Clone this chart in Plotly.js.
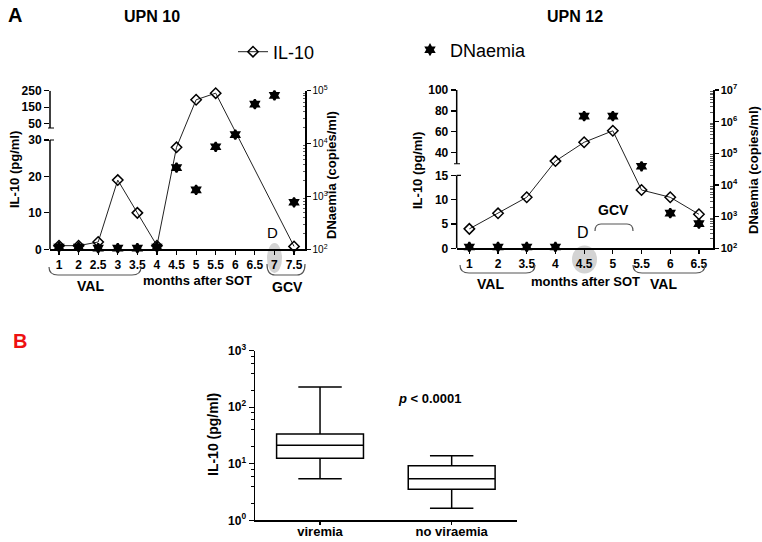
<!DOCTYPE html>
<html><head><meta charset="utf-8">
<script src="https://cdn.plot.ly/plotly-3.0.1.min.js"></script>
<style>html,body{margin:0;padding:0;background:#fff}#chart{width:762px;height:542px}</style>
</head><body><div id="chart"></div>
<script>
// ---------- DATA ----------
const catsA   = ['1','2','2.5','3','3.5','4','4.5','5','5.5','6','6.5','7','7.5'];
const il10A_x = ['1','2','2.5','3','3.5','4','4.5','5','5.5','7.5'];
const il10A   = [1, 1, 2, 19, 10, 1, 28, 195, 235, 0.8];
const dnaA    = [110, 110, 105, 105, 105, 110, 3500, 1330, 8700, 14800, 55600, 81500, 775];

const catsB   = ['1','2','3.5','4','4.5','5','5.5','6','6.5'];
const il10B   = [4, 7.2, 10.5, 32, 50, 61, 12, 10.5, 7];
const dnaB    = [110, 110, 110, 110, 1.5e6, 1.5e6, 39000, 1290, 600];

const leftTicksA = [0, 10, 20, 30, 50, 150, 250];
const leftTicksB = [0, 5, 10, 15, 40, 60, 80, 100];

const boxGroups  = ['viremia', 'no viraemia'];
const boxLow     = [5.45, 1.63];
const boxQ1      = [12.5, 3.53];
const boxMedian  = [21.2, 5.45];
const boxQ3      = [33.7, 9.25];
const boxHigh    = [229, 13.9];

// ---------- helpers ----------
const W = 762, H = 542;
const px = x => x / W, py = y => 1 - y / H;
const FONT = 'Liberation Sans, Arial, sans-serif';

// broken-axis scale configs
const brkA = {lowMax: 30, upRef: 50, upBase: 34.48, upScale: 0.0453};
const brkB = {lowMax: 20, upRef: 40, upBase: 19.67, upScale: 0.2152};
const brk = (v, s) => v <= s.lowMax ? v : s.upBase + (v - s.upRef) * s.upScale;

function sup(n) { return '10<sup>' + n + '</sup>'; }
function decades(a, b) { const v = []; for (let i = a; i <= b; i++) v.push(Math.pow(10, i)); return v; }
function minors(a, b, digits) { const v = []; for (let i = a; i < b; i++) digits.forEach(d => v.push(d * Math.pow(10, i))); return v; }

const il10Style = {mode: 'lines+markers', line: {color: '#222', width: 1},
  marker: {symbol: 'diamond-open', size: 8, color: 'black', line: {width: 1.5, color: 'black'}}, cliponaxis: false};
const dnaStyle = {mode: 'markers', marker: {symbol: 'hexagram', size: 7, color: 'black', line: {width: 2, color: 'black'}}, cliponaxis: false};

const traces = [
  Object.assign({type: 'scatter', name: 'IL-10', x: il10A_x, y: il10A.map(v => brk(v, brkA)), xaxis: 'x', yaxis: 'y', legend: 'legend', showlegend: true}, il10Style),
  Object.assign({type: 'scatter', name: 'DNaemia', x: catsA, y: dnaA, xaxis: 'x', yaxis: 'y2', legend: 'legend2', showlegend: true}, dnaStyle),
  Object.assign({type: 'scatter', name: 'IL-10', x: catsB, y: il10B.map(v => brk(v, brkB)), xaxis: 'x2', yaxis: 'y3', showlegend: false}, il10Style),
  Object.assign({type: 'scatter', name: 'DNaemia', x: catsB, y: dnaB, xaxis: 'x2', yaxis: 'y4', showlegend: false}, dnaStyle),
  {type: 'box', x: boxGroups, lowerfence: boxLow, q1: boxQ1, median: boxMedian, q3: boxQ3, upperfence: boxHigh,
   xaxis: 'x3', yaxis: 'y5', showlegend: false, boxpoints: false, width: 0.66, whiskerwidth: 0.5,
   line: {color: 'black', width: 1.5}, fillcolor: 'white'}
];

const tickBold = {family: FONT, size: 12, color: 'black', weight: 'bold'};

const xBase = {type: 'category', showline: true, linecolor: 'black', linewidth: 1.5, ticks: 'outside', ticklen: 4,
  tickcolor: 'black', tickwidth: 1.2, showgrid: false, zeroline: false, tickfont: tickBold, fixedrange: true};

const layout = {
  width: W, height: H, margin: {l: 0, r: 0, t: 0, b: 0},
  paper_bgcolor: 'white', plot_bgcolor: 'rgba(0,0,0,0)', font: {family: FONT, color: 'black'},
  hovermode: false,
  legend: {x: px(233), y: py(52), xanchor: 'left', yanchor: 'middle', orientation: 'h', font: {family: FONT, size: 18}, bgcolor: 'rgba(0,0,0,0)'},
  legend2: {x: px(410), y: py(50), xanchor: 'left', yanchor: 'middle', orientation: 'h', font: {family: FONT, size: 18}, bgcolor: 'rgba(0,0,0,0)'},
  // UPN 10
  xaxis: Object.assign({}, xBase, {domain: [px(50), px(305)], anchor: 'y', categoryorder: 'array', categoryarray: catsA, range: [-0.46, 12.56]}),
  yaxis: {domain: [py(249.3), py(90.7)], range: [0, brk(250, brkA)], showline: false, showgrid: false, zeroline: false,
    tickmode: 'array', tickvals: leftTicksA.map(v => brk(v, brkA)), ticktext: leftTicksA.map(String),
    ticks: 'outside', ticklen: 5, tickcolor: 'black', tickwidth: 1.2, tickfont: tickBold, anchor: 'x', fixedrange: true},
  yaxis2: {type: 'log', domain: [py(249.3), py(90.7)], range: [2, 5], overlaying: 'y', side: 'right', anchor: 'x',
    showline: true, linecolor: 'black', linewidth: 1.5, showgrid: false, zeroline: false,
    tickmode: 'array', tickvals: decades(2, 5), ticktext: [2, 3, 4, 5].map(sup), ticks: 'outside', ticklen: 4,
    tickcolor: 'black', tickwidth: 1.2, tickfont: {family: FONT, size: 10, color: 'black'},
    minor: {tickvals: minors(2, 5, [2, 3, 4, 5, 6, 7, 8, 9]), ticks: 'inside', ticklen: 2, tickcolor: '#333', tickwidth: 0.8, showgrid: false}, fixedrange: true},
  // UPN 12
  xaxis2: Object.assign({}, xBase, {domain: [px(456.7), px(713)], anchor: 'y3', categoryorder: 'array', categoryarray: catsB, range: [-0.44, 8.49]}),
  yaxis3: {domain: [py(248.3), py(90)], range: [0, brk(100, brkB)], showline: false, showgrid: false, zeroline: false,
    tickmode: 'array', tickvals: leftTicksB.map(v => brk(v, brkB)), ticktext: leftTicksB.map(String),
    ticks: 'outside', ticklen: 5, tickcolor: 'black', tickwidth: 1.2, tickfont: tickBold, anchor: 'x2', fixedrange: true},
  yaxis4: {type: 'log', domain: [py(248.3), py(90)], range: [2, 7], overlaying: 'y3', side: 'right', anchor: 'x2',
    showline: true, linecolor: 'black', linewidth: 1.5, showgrid: false, zeroline: false,
    tickmode: 'array', tickvals: decades(2, 7), ticktext: [2, 3, 4, 5, 6, 7].map(sup), ticks: 'outside', ticklen: 4,
    tickcolor: 'black', tickwidth: 1.2, tickfont: {family: FONT, size: 11, color: 'black', weight: 'bold'},
    minor: {tickvals: minors(2, 7, [2, 3, 4, 5, 6, 7, 8, 9]), ticks: 'inside', ticklen: 3, tickcolor: '#333', tickwidth: 0.8, showgrid: false}, fixedrange: true},
  // Box panel
  xaxis3: {domain: [px(255), px(516.7)], anchor: 'y5', type: 'category', range: [-0.494, 1.494], showline: true, linecolor: 'black', linewidth: 1.5,
    ticks: 'outside', ticklen: 3, tickcolor: 'black', tickwidth: 1.2, showgrid: false, zeroline: false, ticklabelstandoff: -4,
    tickfont: {family: FONT, size: 13, color: 'black', weight: 'bold'}, fixedrange: true},
  yaxis5: {type: 'log', domain: [py(520.3), py(350.7)], range: [0, 3], anchor: 'x3', showline: true, linecolor: 'black', linewidth: 1.5,
    showgrid: false, zeroline: false, tickmode: 'array', tickvals: decades(0, 3), ticktext: [0, 1, 2, 3].map(sup),
    ticks: 'outside', ticklen: 5, tickcolor: 'black', tickwidth: 1.2, tickfont: tickBold,
    minor: {tickvals: minors(0, 3, [2, 4, 6, 8]), ticks: 'outside', ticklen: 3, tickcolor: 'black', tickwidth: 1, showgrid: false}, fixedrange: true}
};

// ---------- decorations ----------
function ann(text, x, y, size, opts) {
  return Object.assign({text: text, x: px(x), y: py(y), xref: 'paper', yref: 'paper', showarrow: false,
    xanchor: 'center', yanchor: 'middle', font: {family: FONT, size: size, color: 'black'}}, opts || {});
}
layout.annotations = [
  ann('<b>A</b>', 15, 15, 20),
  ann('<b>UPN 10</b>', 152, 16, 16),
  ann('<b>UPN 12</b>', 575, 16, 16),
  ann('<b>B</b>', 20, 341, 20, {font: {family: FONT, size: 20, color: '#ee1111'}}),
  ann('<b>IL-10 (pg/ml)</b>', 15, 170, 13, {textangle: -90}),
  ann('<b>DNaemia (copies/ml)</b>', 332, 175, 13, {textangle: -90}),
  ann('<b>IL-10 (pg/ml)</b>', 418, 170, 13, {textangle: -90}),
  ann('<b>DNaemia (copies/ml)</b>', 754, 170, 13, {textangle: -90}),
  ann('<b>IL-10 (pg/ml)</b>', 213, 435, 14, {textangle: -90}),
  ann('D', 272, 232, 15),
  ann('D', 583, 232, 16),
  ann('<b>VAL</b>', 90, 286, 14),
  ann('<b>GCV</b>', 287, 287, 14),
  ann('<b>months after SOT</b>', 197, 280, 13),
  ann('<b>VAL</b>', 490, 284, 14),
  ann('<b>GCV</b>', 613, 210, 14),
  ann('<b>VAL</b>', 663, 284, 14),
  ann('<b>months after SOT</b>', 585, 281, 13),
  ann('<b><i>p</i> < 0.0001</b>', 430, 398, 13)
];

function vline(x, yref, y0, y1) {
  return {type: 'line', xref: 'paper', yref: yref, x0: px(x), x1: px(x), y0: y0, y1: y1, line: {color: 'black', width: 1.5}};
}
function hcap(x0, x1, yref, y) {
  return {type: 'line', xref: 'paper', yref: yref, x0: px(x0), x1: px(x1), y0: y, y1: y, line: {color: 'black', width: 1.2}};
}
function brace(x0, x1, yEnd, yMid, r) {
  const p = 'M ' + px(x0) + ',' + py(yEnd) + ' Q ' + px(x0) + ',' + py(yMid) + ' ' + px(x0 + r) + ',' + py(yMid) +
    ' L ' + px(x1 - r) + ',' + py(yMid) + ' Q ' + px(x1) + ',' + py(yMid) + ' ' + px(x1) + ',' + py(yEnd);
  return {type: 'path', xref: 'paper', yref: 'paper', path: p, line: {color: '#555', width: 1.2}};
}
function ellipse(cx, cy, rx, ry) {
  return {type: 'circle', xref: 'paper', yref: 'paper', x0: px(cx - rx), x1: px(cx + rx), y0: py(cy + ry), y1: py(cy - ry),
    fillcolor: '#d3d3d3', line: {width: 0}, layer: 'below'};
}
layout.shapes = [
  ellipse(274.5, 258, 7.5, 15),
  ellipse(584.5, 259.5, 12.5, 14),
  // broken left axis UPN 10
  vline(50, 'y', 0, 30), hcap(50, 54, 'y', 30),
  vline(50, 'y', 33.3, brk(250, brkA)), hcap(48, 54, 'y', 33.3),
  // broken left axis UPN 12
  vline(456.7, 'y3', 0, 15), hcap(456.7, 461, 'y3', 15),
  vline(456.7, 'y3', 17.4, brk(100, brkB)), hcap(454, 460, 'y3', 17.4),
  // braces
  brace(49, 141, 267, 275, 9),
  brace(267, 305, 264, 275, 8),
  brace(460, 535, 265, 273, 9),
  brace(633, 705, 265, 273, 9),
  brace(595, 633, 231, 224, 6)
];

Plotly.newPlot('chart', traces, layout, {displayModeBar: false, staticPlot: true});
</script></body></html>
